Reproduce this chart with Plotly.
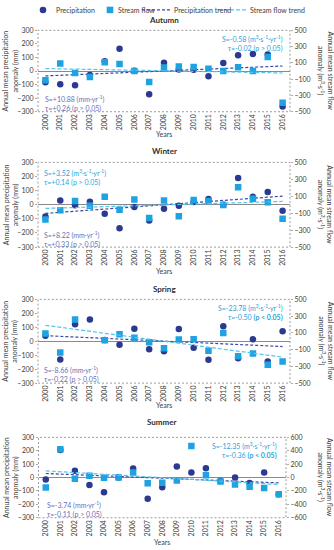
import plotly.graph_objects as go

# ---------------- data ----------------
years = list(range(2000, 2017))
seasons = ["Autumn", "Winter", "Spring", "Summer"]

autumn_precip = [-83, -98, -105, -30, 72, 164, 2, -172, 61, 12, 10, -38, 60, 117, 126, 122, -262]
autumn_flow = [-113, 91, -24, -72, 107, 87, 0, -135, 44, 56, 48, 28, 0, 46, 0, 171, -390]
winter_precip = [-84, 30, -3, 22, -63, -166, -16, -112, -29, -7, 20, 40, 0, 190, 56, 91, -42]
winter_flow = [-175, -66, 43, -12, 94, -59, 62, -156, 50, -137, 55, 43, -3, 207, 70, 31, -164]
spring_precip = [40, -130, 121, 156, 9, -26, 90, -57, -71, 88, -47, -133, 107, -121, 14, -145, 71]
spring_flow = [91, -134, 261, None, 12, 83, 43, -12, -85, 20, 24, -115, 99, -178, -146, -281, -241]
summer_precip = [-15, 205, 50, -55, -109, 0, 67, -159, -72, 82, 37, 69, -25, 0, -40, 37, -125]
summer_flow = [-149, 421, -20, 25, -5, 0, 74, -84, -79, -45, 470, 35, -59, -104, -139, -158, -248]

# trend line end values (2000, 2016)
trend_years = [2000, 2016]
autumn_precip_trend = [-36, 37]
autumn_flow_trend = [30, -24]
winter_precip_trend = [-61, 61]
winter_flow_trend = [-43, 39]
spring_precip_trend = [40, -38]
spring_flow_trend = [190, -190]
summer_precip_trend = [30, -40]
summer_flow_trend = [99, -104]

precip_ticks = [-300, -200, -100, 0, 100, 200, 300]
flow_ticks_500 = [-500, -300, -100, 100, 300, 500]
flow_ticks_600 = [-600, -400, -200, 0, 200, 400, 600]

precip_stats = [
    ["S=+10.88 (mm·yr<sup>-1</sup>)", "τ=+0.26 (p > 0.05)"],
    ["S=+8.22 (mm·yr<sup>-1</sup>)", "τ=+0.33 (p > 0.05)"],
    ["S=-8.66 (mm·yr<sup>-1</sup>)", "τ=-0.22 (p > 0.05)"],
    ["S=-3.74 (mm·yr<sup>-1</sup>)", "τ=-0.11 (p > 0.05)"],
]
flow_stats = [
    ["S=-0.58 (m<sup>3</sup>·s<sup>-1</sup>·yr<sup>-1</sup>)", "τ=-0.02 (p > 0.05)"],
    ["S=+3.52 (m<sup>3</sup>·s<sup>-1</sup>·yr<sup>-1</sup>)", "τ=+0.14 (p > 0.05)"],
    ["S=-23.78 (m<sup>3</sup>·s<sup>-1</sup>·yr<sup>-1</sup>)", "τ=-0.50 <b>(p < 0.05)</b>"],
    ["S=-12.35 (m<sup>3</sup>·s<sup>-1</sup>·yr<sup>-1</sup>)", "τ=-0.36 <b>(p < 0.05)</b>"],
]

precip_series = [autumn_precip, winter_precip, spring_precip, summer_precip]
flow_series = [autumn_flow, winter_flow, spring_flow, summer_flow]
precip_trends = [autumn_precip_trend, winter_precip_trend, spring_precip_trend, summer_precip_trend]
flow_trends = [autumn_flow_trend, winter_flow_trend, spring_flow_trend, summer_flow_trend]
flow_ranges = [[-500, 500], [-500, 500], [-500, 500], [-600, 600]]
flow_tickvals = [flow_ticks_500, flow_ticks_500, flow_ticks_500, flow_ticks_600]

# ---------------- style / layout ----------------
W, H = 334, 550
FONT = "Lato"
NAVY = "#2b3990"
CYAN = "#1fa2e1"
PTREND = "#3a48a6"
FTREND = "#55c5ea"
PTEXT = "#6a70b8"
FTEXT = "#2aa3dc"
GRAY = "#8a8a8a"
TXT = "#404040"


def fx(px):
    return px / W


def fy(py):
    return 1 - py / H


# plot areas in pixels: (left, right, top, bottom)
areas = [
    (38, 290, 25.7, 108.3),
    (38, 290, 159.7, 245.7),
    (38, 290, 298.7, 383.7),
    (38.5, 286, 438.7, 520.3),
]
title_y = [15.5, 148.5, 288.5, 423.5]
years_y = [131, 270, 405.5, 545]
flow_stat_pos = [("right", 285, 31.5), ("left", 41.5, 167.5), ("right", 285, 304.5), ("right", 279, 444.5)]
precip_stat_pos = [(43, 92), (42, 230), (42, 367.5), (44.5, 504)]

fig = go.Figure()
layout = dict(
    width=W, height=H, autosize=False,
    margin=dict(l=0, r=0, t=0, b=0, pad=0),
    paper_bgcolor="white", plot_bgcolor="white",
    showlegend=False,
    font=dict(family=FONT, size=7, color=TXT),
)
shapes = []
annotations = []

for i in range(4):
    n = i + 1
    xname = "x" if n == 1 else f"x{n}"
    yl = "y" if n == 1 else f"y{2 * n - 1}"
    yr = f"y{2 * n}"
    l, r, t, b = areas[i]

    fig.add_trace(go.Scatter(
        x=years, y=precip_series[i], mode="markers", xaxis=xname, yaxis=yl,
        marker=dict(symbol="circle", size=6.5, color=NAVY, line=dict(width=0)),
        name="Precipitation"))
    fig.add_trace(go.Scatter(
        x=years, y=flow_series[i], mode="markers", xaxis=xname, yaxis=yr,
        marker=dict(symbol="square", size=6.5, color=CYAN, line=dict(width=0)),
        name="Stream flow"))
    fig.add_trace(go.Scatter(
        x=trend_years, y=precip_trends[i], mode="lines", xaxis=xname, yaxis=yl,
        line=dict(color=PTREND, width=1.2, dash="3px,2px"), name="Precipitation trend"))
    fig.add_trace(go.Scatter(
        x=trend_years, y=flow_trends[i], mode="lines", xaxis=xname, yaxis=yr,
        line=dict(color=FTREND, width=1.2, dash="4px,2px"), name="Stream flow trend"))

    xkey = "xaxis" if n == 1 else f"xaxis{n}"
    ylkey = "yaxis" if n == 1 else f"yaxis{2 * n - 1}"
    yrkey = f"yaxis{2 * n}"
    layout[xkey] = dict(
        domain=[fx(l), fx(r)], anchor=yl, range=[1999.5, 2016.5],
        tickvals=years, ticktext=[str(v) for v in years], tickangle=-90,
        tickfont=dict(size=7, color=TXT, family=FONT),
        showgrid=False, zeroline=False, showline=False, ticks="",
    )
    layout[ylkey] = dict(
        domain=[fy(b), fy(t)], anchor=xname, range=[-300, 300],
        tickvals=precip_ticks, tickfont=dict(size=7, color=TXT, family=FONT),
        showgrid=False, zeroline=True, zerolinecolor=GRAY, zerolinewidth=1,
        showline=False, ticks="outside", ticklen=2, tickcolor="#aaaaaa",
    )
    layout[yrkey] = dict(
        domain=[fy(b), fy(t)], anchor=xname, overlaying=yl, side="right",
        range=flow_ranges[i], tickvals=flow_tickvals[i],
        tickfont=dict(size=7, color=TXT, family=FONT),
        showgrid=False, zeroline=False, showline=False,
        ticks="outside", ticklen=2, tickcolor="#aaaaaa",
    )
    # dashed frame
    shapes.append(dict(type="rect", xref=f"{xname} domain", yref=f"{yl} domain",
                       x0=0, x1=1, y0=0, y1=1, line=dict(color="#9a9a9a", width=1, dash="2px,2px"),
                       layer="below"))

    # titles
    annotations.append(dict(text=f"<b>{seasons[i]}</b>", x=fx((l + r) / 2), y=fy(title_y[i]),
                            xref="paper", yref="paper", showarrow=False, xanchor="center",
                            yanchor="middle", font=dict(size=8, color="#303030")))
    annotations.append(dict(text="Years", x=fx((l + r) / 2), y=fy(years_y[i]),
                            xref="paper", yref="paper", showarrow=False, xanchor="center",
                            yanchor="middle", font=dict(size=7, color=TXT)))
    mid = (t + b) / 2
    annotations.append(dict(text="Annual mean precipitation<br>anomaly (mm)", x=fx(10.5), y=fy(mid),
                            xref="paper", yref="paper", showarrow=False, textangle=-90,
                            xanchor="center", yanchor="middle", font=dict(size=7, color=TXT)))
    annotations.append(dict(text="Annual mean stream flow<br>anomaly (m<sup>3</sup>·s<sup>-1</sup>)",
                            x=fx(325.5), y=fy(mid),
                            xref="paper", yref="paper", showarrow=False, textangle=90,
                            xanchor="center", yanchor="middle", font=dict(size=7, color=TXT)))
    # stats text
    al, sx, sy = flow_stat_pos[i]
    annotations.append(dict(text="<br>".join(flow_stats[i]), x=fx(sx), y=fy(sy - 4),
                            xref="paper", yref="paper", showarrow=False, align=al,
                            xanchor=al, yanchor="top", font=dict(size=7, color=FTEXT)))
    px_, py_ = precip_stat_pos[i]
    annotations.append(dict(text="<br>".join(precip_stats[i]), x=fx(px_), y=fy(py_ - 4),
                            xref="paper", yref="paper", showarrow=False, align="left",
                            xanchor="left", yanchor="top", font=dict(size=7, color=PTEXT)))

# manual legend
ly = 5
shapes.append(dict(type="circle", xref="paper", yref="paper", x0=fx(39.7), x1=fx(46.3),
                   y0=fy(ly + 3.3), y1=fy(ly - 3.3), fillcolor=NAVY, line=dict(width=0)))
shapes.append(dict(type="rect", xref="paper", yref="paper", x0=fx(106.7), x1=fx(113.3),
                   y0=fy(ly + 3.3), y1=fy(ly - 3.3), fillcolor=CYAN, line=dict(width=0)))
shapes.append(dict(type="line", xref="paper", yref="paper", x0=fx(142), x1=fx(170),
                   y0=fy(ly), y1=fy(ly), line=dict(color=PTREND, width=1.2, dash="3px,2px")))
shapes.append(dict(type="line", xref="paper", yref="paper", x0=fx(218), x1=fx(246),
                   y0=fy(ly), y1=fy(ly), line=dict(color=FTREND, width=1.2, dash="4px,2px")))
for txt, xx in [("Precipitation", 54), ("Stream flow", 116), ("Precipitation trend", 171.5),
                ("Stream flow trend", 248)]:
    annotations.append(dict(text=txt, x=fx(xx), y=fy(ly), xref="paper", yref="paper",
                            showarrow=False, xanchor="left", yanchor="middle",
                            font=dict(size=7, color=TXT)))

layout["shapes"] = shapes
layout["annotations"] = annotations
fig.update_layout(**layout)
fig.write_html(
    "out.html",
    config={"displayModeBar": False},
    post_script="document.body.style.margin='0';document.body.style.padding='0';"
                "document.body.style.overflow='hidden';",
)
